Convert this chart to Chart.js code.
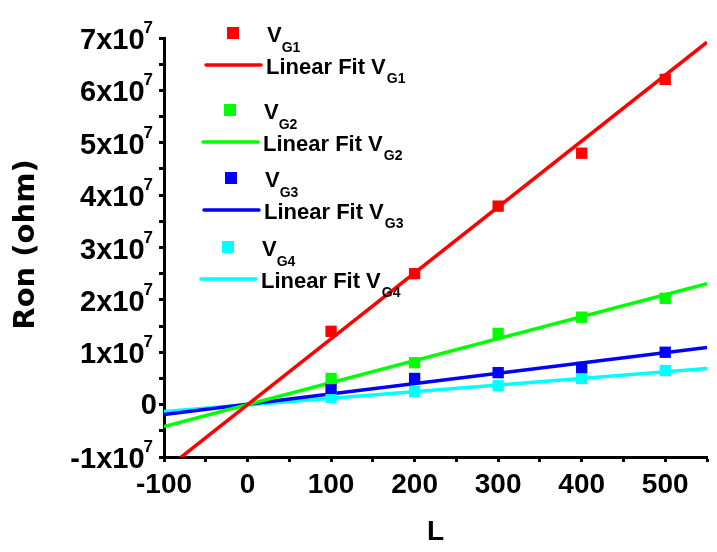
<!DOCTYPE html>
<html>
<head>
<meta charset="utf-8">
<script src="https://cdn.jsdelivr.net/npm/chart.js@4/dist/chart.umd.min.js"></script>
<style>
body{margin:0;background:#fff;}
#chart{display:block;}
</style>
</head>
<body>
<canvas id="chart" width="717" height="552"></canvas>
<script>
// DATA
const L = [100, 200, 300, 400, 500];
const vg1 = [1.40e7, 2.50e7, 3.79e7, 4.80e7, 6.21e7];
const vg2 = [0.50e7, 0.80e7, 1.36e7, 1.67e7, 2.03e7];
const vg3 = [0.31e7, 0.50e7, 0.61e7, 0.71e7, 1.00e7];
const vg4 = [0.14e7, 0.25e7, 0.36e7, 0.50e7, 0.65e7];

// linear fit end points, read at L = -100 and L = 550
const fitL = [-100, 550];
const fitVg1 = [-1.26e7, 6.92e7];
const fitVg2 = [-0.42e7, 2.31e7];
const fitVg3 = [-0.19e7, 1.09e7];
const fitVg4 = [-0.13e7, 0.69e7];

const gates = ["G1", "G2", "G3", "G4"];
const colors = ["#ff0000", "#00ff00", "#0000ff", "#00ffff"];

const xTicks = [-100, 0, 100, 200, 300, 400, 500];
const yTicks = [-1, 0, 1, 2, 3, 4, 5, 6, 7]; // times 10^7

const xTitle = "L";
const yTitle = "Ron (ohm)";

// LAYOUT (pixels)
const legendRows = [33, 110, 178, 247];
const legendShift = [0, -3, -2, -5];

const points = [vg1, vg2, vg3, vg4];
const fits = [fitVg1, fitVg2, fitVg3, fitVg4];

const datasets = [];
gates.forEach((g, i) => {
datasets.push({
  label: "Linear Fit V" + g,
  data: fitL.map((x, j) => ({x: x, y: fits[i][j]})),
  showLine: true,
  borderColor: colors[i],
  borderWidth: 3.5,
  pointRadius: 0,
  order: 2
});
datasets.push({
  label: "V" + g,
  data: L.map((x, j) => ({x: x, y: points[i][j]})),
  backgroundColor: colors[i],
  borderWidth: 0,
  pointStyle: "rect",
  pointRadius: 8,
  order: 1
});
});

const tickFont = '"Liberation Sans", Arial, sans-serif';

// TEXT: tick labels, titles, legend
const textPlugin = {
id: "texts",
afterDraw(chart){
const ctx = chart.ctx;
const area = chart.chartArea;
const xs = chart.scales.x, ys = chart.scales.y;
ctx.save();
ctx.fillStyle = "#000";
ctx.textBaseline = "alphabetic";

// y tick labels with superscript
yTicks.forEach(m => {
  const py = ys.getPixelForValue(m * 1e7);
  if (m === 0) {
    ctx.font = "bold 29px " + tickFont;
    ctx.textAlign = "right";
    ctx.fillText("0", area.left - 7, py + 9);
    return;
  }
  ctx.font = "bold 17px " + tickFont;
  const sw = ctx.measureText("7").width;
  const right = area.left - 11;
  ctx.textAlign = "left";
  ctx.fillText("7", right - sw, py - 5);
  ctx.font = "bold 29px " + tickFont;
  ctx.textAlign = "right";
  ctx.fillText(m + "x10", right - sw + 1, py + 11);
});

// x tick labels
ctx.font = "bold 28px " + tickFont;
ctx.textAlign = "center";
xTicks.forEach(v => {
  ctx.fillText(String(v), xs.getPixelForValue(v), area.bottom + 36);
});

// axis titles
ctx.fillText(xTitle, (area.left + area.right) / 2, area.bottom + 83);
ctx.save();
ctx.translate(34, (area.top + area.bottom) / 2 - 3);
ctx.rotate(-Math.PI / 2);
ctx.font = "bold 29px 'DejaVu Sans', sans-serif";
ctx.fillText(yTitle, 0, 0);
ctx.restore();

// legend
gates.forEach((g, i) => {
  const y = legendRows[i];
  const ly = y + 32;
  const dx = legendShift[i];
  ctx.fillStyle = colors[i];
  ctx.fillRect(227 + dx, y - 6, 12, 12);
  ctx.strokeStyle = colors[i];
  ctx.lineWidth = 3.5;
  ctx.lineCap = "round";
  ctx.beginPath();
  ctx.moveTo(206 + dx, ly);
  ctx.lineTo(261 + dx, ly);
  ctx.stroke();

  ctx.fillStyle = "#000";
  ctx.textAlign = "left";
  ctx.font = "bold 22px " + tickFont;
  ctx.fillText("V", 267 + dx, y + 9);
  let w = ctx.measureText("V").width;
  ctx.font = "bold 14px " + tickFont;
  ctx.fillText(g, 267 + dx + w, y + 19);

  ctx.font = "bold 22px " + tickFont;
  ctx.fillText("Linear Fit V", 266 + dx, ly + 9);
  w = ctx.measureText("Linear Fit V").width;
  ctx.font = "bold 14px " + tickFont;
  ctx.fillText(g, 266 + dx + w + 1, ly + 18);
});
ctx.restore();
}
};

// CHART
const chart = new Chart(document.getElementById("chart").getContext("2d"), {
type: "scatter",
data: {datasets: datasets},
options: {
  responsive: false,
  animation: false,
  layout: {padding: {top: 38, right: 10, left: 0, bottom: 0}},
  plugins: {legend: {display: false}, tooltip: {enabled: false}},
  scales: {
    x: {
      type: "linear", min: -100, max: 550,
      ticks: {display: false, stepSize: 50, autoSkip: false},
      grid: {drawOnChartArea: false, drawTicks: true, tickLength: 5, tickWidth: 3, tickColor: "#000"},
      border: {display: true, color: "#000", width: 3},
      afterFit(s){ s.height = 95; }
    },
    y: {
      type: "linear", min: -1e7, max: 7e7,
      ticks: {display: false, stepSize: 5e6, autoSkip: false},
      grid: {drawOnChartArea: false, drawTicks: true, tickLength: 5, tickWidth: 3, tickColor: "#000"},
      border: {display: true, color: "#000", width: 3},
      afterFit(s){ s.height; s.width = 164; }
    }
  }
},
plugins: [textPlugin]
});
</script>
</body>
</html>
